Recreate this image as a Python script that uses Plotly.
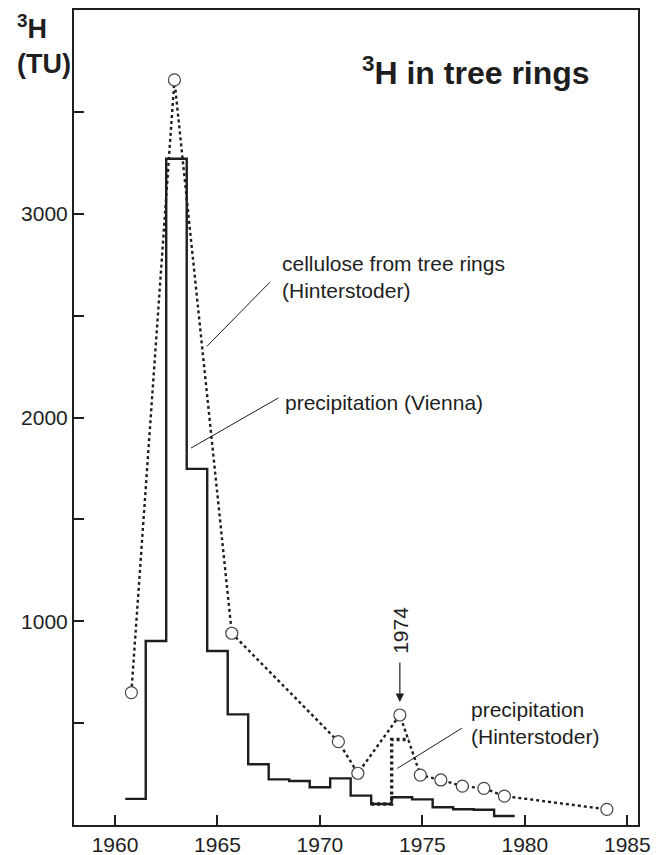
import plotly.graph_objects as go

# precipitation Vienna (annual mean, TU)
vienna_years = [1961, 1962, 1963, 1964, 1965, 1966, 1967, 1968, 1969, 1970,
                1971, 1972, 1973, 1974, 1975, 1976, 1977, 1978, 1979]
vienna_tu = [128, 903, 3270, 1748, 854, 543, 298, 224, 216, 185,
             229, 144, 103, 136, 126, 87, 77, 75, 44]

# precipitation Hinterstoder
hinter_years = [1973, 1974]
hinter_tu = [103, 420]
hinter_end = 1974.35

# cellulose from tree rings (Hinterstoder)
ring_years = [1960.8, 1962.9, 1965.7, 1970.9, 1971.85, 1973.9, 1974.9,
              1975.9, 1976.95, 1978.0, 1979.0, 1984.0]
ring_tu = [650, 3657, 941, 409, 254, 540, 245, 221, 191, 180, 142, 77]

x_ticks = [1960, 1965, 1970, 1975, 1980, 1985]
y_ticks = [1000, 2000, 3000]

FONT = "Liberation Sans, Arial, sans-serif"
INK = "#1e1e1e"

fig = go.Figure()

# step lines: each year covers year-0.5 .. year+0.5
vx = [y - 0.5 for y in vienna_years] + [vienna_years[-1] + 0.5]
vy = vienna_tu + [vienna_tu[-1]]
fig.add_trace(go.Scatter(x=vx, y=vy, mode='lines', line_shape='hv',
                         line=dict(color=INK, width=2.4), hoverinfo='skip'))

hx = [y - 0.5 for y in hinter_years] + [hinter_end]
hy = hinter_tu + [hinter_tu[-1]]
fig.add_trace(go.Scatter(x=hx, y=hy, mode='lines', line_shape='hv',
                         line=dict(color=INK, width=3.4, dash='3px,3px'), hoverinfo='skip'))

fig.add_trace(go.Scatter(
    x=ring_years, y=ring_tu, mode='lines+markers',
    line=dict(color=INK, width=2.4, dash='3px,3px'),
    marker=dict(symbol='circle', size=12, color='white', line=dict(color='#444', width=1.2)),
))

# leader lines
leaders = [
    (1964.48, 2349, 1967.56, 2664),
    (1963.71, 1850, 1967.97, 2096),
    (1973.78, 278, 1976.92, 475),
]
for x0, y0, x1, y1 in leaders:
    fig.add_shape(type='line', x0=x0, y0=y0, x1=x1, y1=y1,
                  line=dict(color=INK, width=1))

txt = dict(family=FONT, size=21, color=INK)
fig.add_annotation(x=1968.05, y=2692, text="cellulose from tree rings<br>(Hinterstoder)",
                   showarrow=False, xanchor='left', yanchor='middle', align='left', font=txt)
fig.add_annotation(x=1968.2, y=2073, text="precipitation (Vienna)",
                   showarrow=False, xanchor='left', yanchor='middle', align='left', font=txt)
fig.add_annotation(x=1977.25, y=501, text="precipitation<br>(Hinterstoder)",
                   showarrow=False, xanchor='left', yanchor='middle', align='left', font=txt)

# 1974 marker arrow
fig.add_annotation(x=1973.9, y=604, ax=1973.9, ay=805, axref='x', ayref='y',
                   text="", showarrow=True, arrowhead=2, arrowsize=1.4,
                   arrowwidth=1.2, arrowcolor=INK)
fig.add_annotation(x=1973.9, y=957, text="1974", textangle=-90, showarrow=False,
                   xanchor='center', yanchor='middle', font=txt)

fig.add_annotation(x=1971.96, y=3699, text="<sup>3</sup>H in tree rings", showarrow=False,
                   xanchor='left', yanchor='middle',
                   font=dict(family=FONT, size=32, color=INK, weight='bold'))
fig.add_annotation(x=-0.105, y=0.958, xref='paper', yref='paper', text="<sup>3</sup>H<br>(TU)",
                   showarrow=False, xanchor='left', yanchor='middle', align='left',
                   font=dict(family=FONT, size=27, color=INK, weight='bold'))

axis = dict(showline=True, linecolor=INK, linewidth=2, mirror=True,
            ticks='inside', ticklen=10, tickwidth=2, tickcolor=INK,
            showgrid=False, zeroline=False, tickfont=txt, automargin=False)
fig.update_xaxes(range=[1958, 1985.52], tickvals=x_ticks, **axis)
fig.update_yaxes(range=[0, 4000], tickvals=y_ticks,
                 minor=dict(ticks='inside', ticklen=10, tickwidth=2, tickcolor=INK,
                            tick0=0, dtick=500, showgrid=False),
                 **axis)

# page body adds an 8px offset, so the figure is sized to fit inside the window
fig.update_layout(
    width=655, height=847,
    margin=dict(l=66, r=25, t=2, b=30),
    plot_bgcolor='white', paper_bgcolor='white',
    showlegend=False,
)

fig.write_html("out.html")
